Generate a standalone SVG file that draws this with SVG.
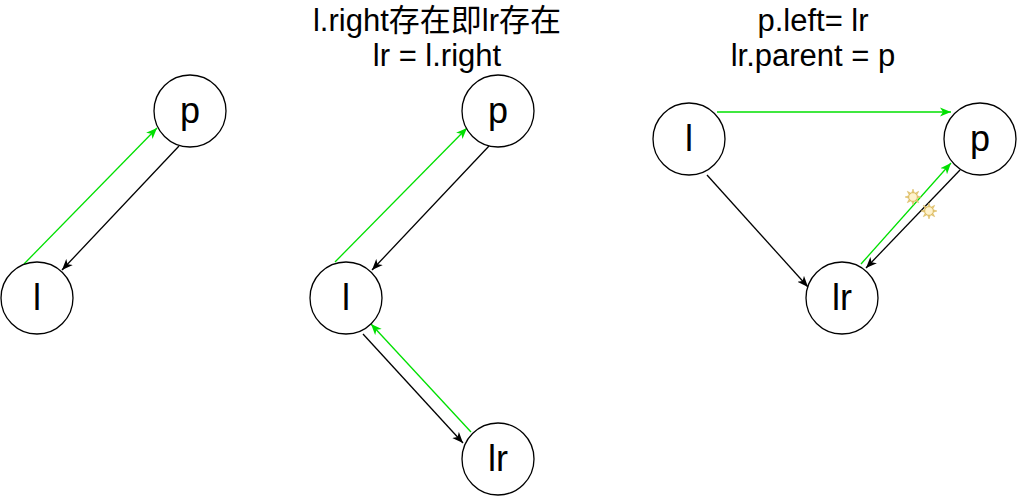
<svg xmlns="http://www.w3.org/2000/svg" width="1017" height="496" viewBox="0 0 1017 496">
<style>
.node circle{fill:#fff;stroke:#000;stroke-width:1.3}
.lbl{font-family:"Liberation Sans",Arial,sans-serif;font-size:36px;text-anchor:middle;fill:#000}
.title{font-family:"Liberation Sans","Noto Sans CJK SC",sans-serif;font-size:31px;text-anchor:middle;fill:#000}
.blk{stroke:#000;stroke-width:1.3;fill:none;marker-end:url(#ab)}
.grn{stroke:#00e000;stroke-width:1.3;fill:none;marker-end:url(#ag)}
</style>
<defs>
<marker id="ab" markerUnits="userSpaceOnUse" markerWidth="12" markerHeight="10" refX="11" refY="5" orient="auto">
<path d="M0,0.5 L11,5 L0,9.5 L3,5 z" fill="#000"/>
</marker>
<marker id="ag" markerUnits="userSpaceOnUse" markerWidth="12" markerHeight="10" refX="11" refY="5" orient="auto">
<path d="M0,0.5 L11,5 L0,9.5 L3,5 z" fill="#00e000"/>
</marker>
<g id="sun">
<polygon points="0,-8 1.5,-3.6 5.7,-5.7 3.6,-1.5 8,0 3.6,1.5 5.7,5.7 1.5,3.6 0,8 -1.5,3.6 -5.7,5.7 -3.6,1.5 -8,0 -3.6,-1.5 -5.7,-5.7 -1.5,-3.6" fill="#e8c77a" stroke="#d6b656" stroke-width="0.5"/>
<circle r="4.3" fill="#fff2cc" stroke="#d6b656" stroke-width="0.8"/>
</g>
</defs>
<rect width="1017" height="496" fill="#fff"/>
<g id="titles">
<text class="title" x="437" y="31">l.right存在即lr存在</text>
<text class="title" x="437" y="66">lr = l.right</text>
<text class="title" x="813" y="31">p.left= lr</text>
<text class="title" x="813" y="66">lr.parent = p</text>
</g>
<g id="connectors">
<line class="grn" x1="24" y1="264" x2="157" y2="128"/>
<line class="blk" x1="179" y1="146" x2="62" y2="270"/>
<line class="grn" x1="335" y1="262" x2="467" y2="128"/>
<line class="blk" x1="489" y1="146" x2="372" y2="270"/>
<line class="blk" x1="363" y1="334" x2="463" y2="443"/>
<line class="grn" x1="471" y1="432" x2="371" y2="324"/>
<line class="grn" x1="717" y1="112" x2="951" y2="112"/>
<line class="blk" x1="707" y1="175" x2="808" y2="287"/>
<line class="grn" x1="861" y1="264" x2="951" y2="163"/>
<line class="blk" x1="960" y1="170" x2="866" y2="268"/>
</g>
<g id="icons">
<use href="#sun" x="913" y="197"/>
<use href="#sun" x="929" y="211"/>
</g>
<g id="n-left-p" class="node"><circle cx="190" cy="111" r="36"/><text class="lbl" x="190" y="123">p</text></g>
<g id="n-left-l" class="node"><circle cx="37" cy="298" r="36"/><text class="lbl" x="37" y="310">l</text></g>
<g id="n-mid-p" class="node"><circle cx="498" cy="111" r="36"/><text class="lbl" x="498" y="123">p</text></g>
<g id="n-mid-l" class="node"><circle cx="346" cy="298" r="36"/><text class="lbl" x="346" y="310">l</text></g>
<g id="n-mid-lr" class="node"><circle cx="498" cy="459" r="36"/><text class="lbl" x="498" y="471">lr</text></g>
<g id="n-right-l" class="node"><circle cx="689" cy="139" r="36"/><text class="lbl" x="689" y="151">l</text></g>
<g id="n-right-p" class="node"><circle cx="980" cy="139" r="36"/><text class="lbl" x="980" y="151">p</text></g>
<g id="n-right-lr" class="node"><circle cx="842" cy="298" r="36"/><text class="lbl" x="842" y="310">lr</text></g>
</svg>
